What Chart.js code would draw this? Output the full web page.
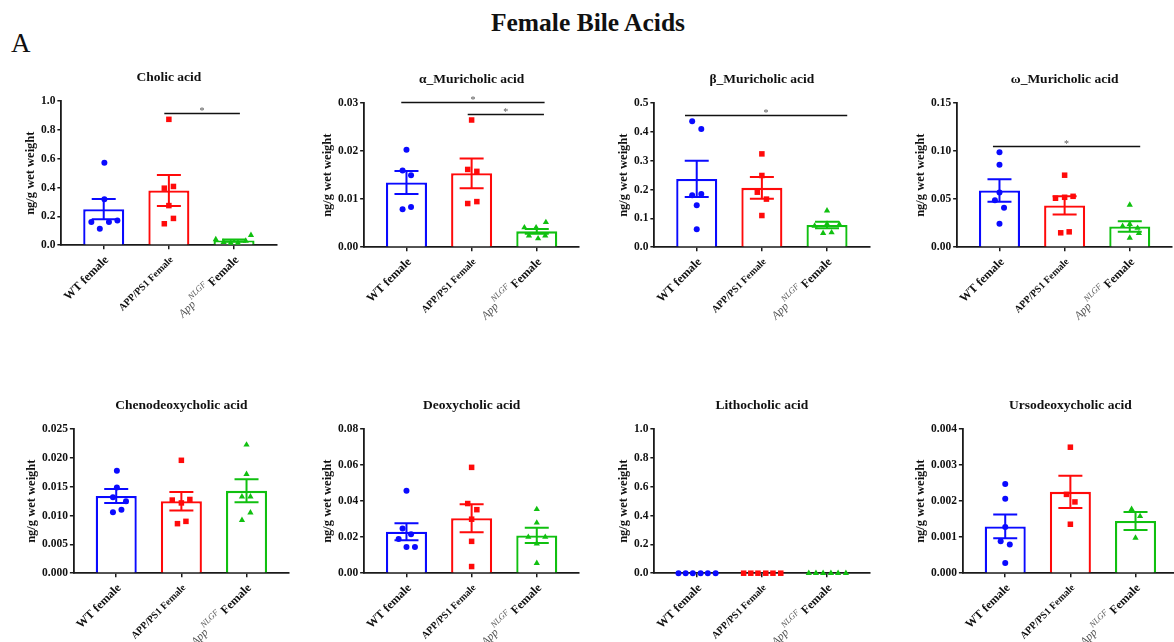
<!DOCTYPE html>
<html>
<head>
<meta charset="utf-8">
<script src="https://cdn.jsdelivr.net/npm/chart.js@4"></script>
<style>
  body { margin: 0; background: #fff; }
  #page { position: relative; width: 1174px; height: 642px; background: #fff; overflow: hidden; }
  #mainTitle { position: absolute; left: 0; top: 8px; width: 1176px; text-align: center;
    font: bold 25.5px 'Liberation Serif', 'Times New Roman', serif; color: #111; }
  #panelLetter { position: absolute; left: 11px; top: 28px; font: 27px 'Liberation Serif', 'Times New Roman', serif; color: #111; }
  canvas { position: absolute; }
</style>
</head>
<body>
<div id="page">
  <div id="mainTitle">Female Bile Acids</div>
  <div id="panelLetter">A</div>
</div>
<script>
const categories = ['WT female', 'APP/PS1 Female', 'App^{NLGF} Female'];

//// Cholic acid
const cholicWT = [0.573, 0.319, 0.161, 0.114, 0.161, 0.172];
const cholicAPP = [0.874, 0.396, 0.408, 0.275, 0.186, 0.149];
const cholicNLGF = [0.040, 0.021, 0.016, 0.016, 0.030, 0.070];
const cholicJitter = [[0.01, 0.01, -0.19, -0.06, 0.08, 0.21], [0, -0.07, 0.07, 0, 0.07, -0.07], [-0.28, -0.16, -0.05, 0.06, 0.18, 0.26]];
const cholicMean = [0.25, 0.38, 0.032];
const cholicSem = [0.07, 0.107, 0.008];
const cholicTicks = ['0.0', '0.2', '0.4', '0.6', '0.8', '1.0'];
const cholicSig = [[0.93, 2.09, 0.918]];

//// alpha muricholic
const alphaWT = [0.0203, 0.0160, 0.0150, 0.0079, 0.0084];
const alphaAPP = [0.0265, 0.0162, 0.0158, 0.0091, 0.0095];
const alphaNLGF = [0.0041, 0.0041, 0.0052, 0.0024, 0.0018, 0.0024];
const alphaJitter = [[0, -0.06, 0.07, -0.06, 0.07], [0, -0.06, 0.08, -0.06, 0.08], [-0.19, -0.01, 0.14, -0.12, 0.02, 0.13]];
const alphaMean = [0.0135, 0.0154, 0.0033];
const alphaSem = [0.0024, 0.0031, 0.0005];
const alphaTicks = ['0.00', '0.01', '0.02', '0.03'];
const alphaSig = [[-0.08, 2.12, 0.0303], [0.94, 2.11, 0.0278]];

//// beta muricholic
const betaWT = [0.437, 0.410, 0.180, 0.185, 0.146, 0.062];
const betaAPP = [0.324, 0.249, 0.191, 0.167, 0.110];
const betaNLGF = [0.127, 0.074, 0.081, 0.079, 0.049, 0.051];
const betaJitter = [[-0.07, 0.07, -0.07, 0.07, 0, 0], [0, 0, -0.07, 0.07, 0], [0, -0.19, 0, 0.19, -0.06, 0.07]];
const betaMean = [0.237, 0.206, 0.077];
const betaSem = [0.063, 0.038, 0.011];
const betaTicks = ['0.0', '0.1', '0.2', '0.3', '0.4', '0.5'];
const betaSig = [[-0.18, 2.31, 0.46]];

//// omega muricholic
const omegaWT = [0.099, 0.086, 0.057, 0.049, 0.041, 0.0245];
const omegaAPP = [0.075, 0.051, 0.052, 0.053, 0.015, 0.016];
const omegaNLGF = [0.044, 0.022, 0.024, 0.020, 0.0145, 0.0097];
const omegaJitter = [[0, 0, 0, -0.07, 0.07, 0], [0, -0.14, 0, 0.13, -0.06, 0.07], [0, -0.11, 0, 0.12, 0.14, 0]];
const omegaMean = [0.059, 0.0435, 0.0215];
const omegaSem = [0.0117, 0.0095, 0.0055];
const omegaTicks = ['0.00', '0.05', '0.10', '0.15'];
const omegaSig = [[-0.10, 2.16, 0.105]];

//// chenodeoxycholic
const chenoWT = [0.0178, 0.0149, 0.0132, 0.0125, 0.0106, 0.0110];
const chenoAPP = [0.0196, 0.0127, 0.0122, 0.0128, 0.0086, 0.0090];
const chenoNLGF = [0.0223, 0.0172, 0.0133, 0.0133, 0.0092, 0.0105];
const chenoJitter = [[0.01, 0.01, -0.05, 0.15, -0.05, 0.08], [0, -0.14, 0, 0.13, -0.06, 0.07], [0, 0, -0.07, 0.06, -0.07, 0.06]];
const chenoMean = [0.0134, 0.0125, 0.0143];
const chenoSem = [0.0012, 0.0016, 0.0020];
const chenoTicks = ['0.000', '0.005', '0.010', '0.015', '0.020', '0.025'];
const chenoSig = [];

//// deoxycholic
const deoxyWT = [0.0458, 0.0249, 0.0216, 0.0190, 0.0145, 0.0145];
const deoxyAPP = [0.0588, 0.0387, 0.0353, 0.0300, 0.0177, 0.0037];
const deoxyNLGF = [0.0355, 0.0280, 0.0201, 0.0201, 0.0164, 0.0056];
const deoxyJitter = [[0, -0.06, 0.07, -0.12, 0, 0.13], [0, -0.06, 0.08, 0, 0, 0], [0, 0, -0.13, 0.13, 0, 0]];
const deoxyMean = [0.0230, 0.0305, 0.0210];
const deoxySem = [0.0047, 0.0078, 0.0042];
const deoxyTicks = ['0.00', '0.02', '0.04', '0.06', '0.08'];
const deoxySig = [];

//// lithocholic
const lithoWT = [0, 0, 0, 0, 0, 0];
const lithoAPP = [0, 0, 0, 0, 0, 0];
const lithoNLGF = [0, 0, 0, 0, 0, 0];
const lithoJitter = [[-0.28, -0.17, -0.06, 0.06, 0.17, 0.29], [-0.28, -0.17, -0.06, 0.06, 0.17, 0.29], [-0.28, -0.17, -0.06, 0.06, 0.17, 0.29]];
const lithoMean = [0, 0, 0];
const lithoSem = [0, 0, 0];
const lithoTicks = ['0.0', '0.2', '0.4', '0.6', '0.8', '1.0'];
const lithoSig = [];

//// ursodeoxycholic
const ursoWT = [0.00248, 0.00207, 0.00128, 0.00089, 0.00080, 0.00028];
const ursoAPP = [0.00350, 0.00219, 0.00198, 0.00136];
const ursoNLGF = [0.00178, 0.00158, 0.00098];
const ursoJitter = [[0, 0, 0, -0.07, 0.07, 0], [0, -0.06, 0.07, 0], [-0.06, 0.07, 0]];
const ursoMean = [0.00130, 0.00226, 0.00145];
const ursoSem = [0.00033, 0.00045, 0.00025];
const ursoTicks = ['0.000', '0.001', '0.002', '0.003', '0.004'];
const ursoSig = [];

const panels = [
  {title: 'Cholic acid', groups: [cholicWT, cholicAPP, cholicNLGF], jitter: cholicJitter, mean: cholicMean, sem: cholicSem, ticks: cholicTicks, sig: cholicSig},
  {title: 'α_Muricholic acid', groups: [alphaWT, alphaAPP, alphaNLGF], jitter: alphaJitter, mean: alphaMean, sem: alphaSem, ticks: alphaTicks, sig: alphaSig},
  {title: 'β_Muricholic acid', groups: [betaWT, betaAPP, betaNLGF], jitter: betaJitter, mean: betaMean, sem: betaSem, ticks: betaTicks, sig: betaSig},
  {title: 'ω_Muricholic acid', groups: [omegaWT, omegaAPP, omegaNLGF], jitter: omegaJitter, mean: omegaMean, sem: omegaSem, ticks: omegaTicks, sig: omegaSig},
  {title: 'Chenodeoxycholic acid', groups: [chenoWT, chenoAPP, chenoNLGF], jitter: chenoJitter, mean: chenoMean, sem: chenoSem, ticks: chenoTicks, sig: chenoSig},
  {title: 'Deoxycholic acid', groups: [deoxyWT, deoxyAPP, deoxyNLGF], jitter: deoxyJitter, mean: deoxyMean, sem: deoxySem, ticks: deoxyTicks, sig: deoxySig},
  {title: 'Lithocholic acid', groups: [lithoWT, lithoAPP, lithoNLGF], jitter: lithoJitter, mean: lithoMean, sem: lithoSem, ticks: lithoTicks, sig: lithoSig},
  {title: 'Ursodeoxycholic acid', groups: [ursoWT, ursoAPP, ursoNLGF], jitter: ursoJitter, mean: ursoMean, sem: ursoSem, ticks: ursoTicks, sig: ursoSig},
];

// where each plot area sits on the page (left edge of y axis, top of y axis)
const plotBoxes = [[61, 101], [364, 103], [654, 103], [957, 103], [74, 429], [364, 429], [654, 429], [963, 429]];
const plotW = 215, plotH = 144;

const serif = "'Liberation Serif', 'Times New Roman', serif";
const colors = ['#0a0aff', '#ff0a0a', '#10c010'];
const shapes = ['circle', 'rect', 'triangle'];
const radii = [3, 3.9, 3.6];
const axisColor = '#1a1a1a';

function labelParts(lab, i) {
    let m = lab.match(/^(.*)\^\{(.*)\}(.*)$/);
    if (m) {
        return [
            {text: m[1], font: 'italic 11.5px ' + serif, color: '#555', dy: 1},
            {text: m[2], font: 'italic 8.5px ' + serif, color: '#555', dy: -5},
            {text: m[3], font: 'bold 12px ' + serif, color: '#111', dy: 0},
        ];
    }
    let size = (i == 0) ? 12 : 10;
    return [{text: lab, font: 'bold ' + size + 'px ' + serif, color: '#111', dy: 0}];
}

function makePanel(p, box) {
    const canvas = document.createElement('canvas');
    canvas.width = 300;
    canvas.height = 290;
    document.getElementById('page').appendChild(canvas);

    let tickVals = p.ticks.map(t => parseFloat(t));
    let datasets = [];
    p.groups.forEach((vals, g) => {
        datasets.push({
            type: 'scatter',
            data: vals.map((v, i) => ({x: g + p.jitter[g][i], y: v})),
            pointStyle: shapes[g],
            pointRadius: radii[g],
            backgroundColor: colors[g],
            borderWidth: 0,
            clip: false,
            order: 0,
        });
    });
    datasets.push({
        type: 'bar',
        data: p.mean.map((m, g) => ({x: g, y: m})),
        backgroundColor: '#fff',
        borderColor: colors,
        borderWidth: 2.3,
        barPercentage: 0.63,
        categoryPercentage: 1,
        order: 1,
    });

    const extras = {
        id: 'extras',
        afterDatasetsDraw(chart) {
            const {ctx, scales: {x, y}} = chart;
            ctx.save();
            // error bars (mean +/- sem)
            p.mean.forEach((m, g) => {
                if (!p.sem[g]) return;
                let cx = x.getPixelForValue(g);
                let yt = y.getPixelForValue(m + p.sem[g]);
                let yb = y.getPixelForValue(m - p.sem[g]);
                ctx.strokeStyle = colors[g];
                ctx.lineWidth = 2;
                ctx.beginPath();
                ctx.moveTo(cx, yt); ctx.lineTo(cx, yb);
                ctx.moveTo(cx - 12, yt); ctx.lineTo(cx + 12, yt);
                ctx.moveTo(cx - 12, yb); ctx.lineTo(cx + 12, yb);
                ctx.stroke();
            });
            // significance bars
            for (let s of p.sig) {
                let x1 = x.getPixelForValue(s[0]), x2 = x.getPixelForValue(s[1]);
                let yy = Math.round(y.getPixelForValue(s[2])) + 0.5;
                ctx.strokeStyle = '#111';
                ctx.lineWidth = 1.5;
                ctx.beginPath();
                ctx.moveTo(x1, yy); ctx.lineTo(x2, yy);
                ctx.stroke();
                ctx.fillStyle = '#555';
                ctx.font = '10px ' + serif;
                ctx.textAlign = 'center';
                ctx.textBaseline = 'bottom';
                ctx.fillText('*', (x1 + x2) / 2, yy + 3);
            }
            ctx.restore();
        },
        afterDraw(chart) {
            const {ctx, scales: {x, y}} = chart;
            const base = y.getPixelForValue(0);
            categories.forEach((lab, i) => {
                let parts = labelParts(lab, i);
                ctx.save();
                ctx.translate(x.getPixelForValue(i) + 3, base + 13);
                ctx.rotate(-Math.PI / 4);
                ctx.textBaseline = 'middle';
                ctx.textAlign = 'left';
                let total = 0;
                for (let pt of parts) { ctx.font = pt.font; pt.w = ctx.measureText(pt.text).width; total += pt.w; }
                let cx = -total;
                for (let pt of parts) {
                    ctx.font = pt.font;
                    ctx.fillStyle = pt.color;
                    ctx.fillText(pt.text, cx, pt.dy);
                    cx += pt.w;
                }
                ctx.restore();
            });
        }
    };

    const padding = {top: 4, right: 10, bottom: 0, left: 2};
    const chart = new Chart(canvas, {
        type: 'bar',
        data: {datasets: datasets},
        options: {
            responsive: false,
            animation: false,
            layout: {padding: padding},
            plugins: {
                legend: {display: false},
                tooltip: {enabled: false},
                title: {
                    display: true,
                    text: p.title,
                    fullSize: false,
                    color: '#111',
                    font: {family: serif, size: 13.5, weight: 'bold'},
                    padding: {top: 0, bottom: 16},
                },
            },
            scales: {
                x: {
                    type: 'linear',
                    offset: false,
                    min: -0.65,
                    max: 2.65,
                    afterBuildTicks: s => { s.ticks = [0, 1, 2].map(v => ({value: v})); },
                    afterFit: s => { s.height = 95; },
                    ticks: {display: false},
                    grid: {display: true, offset: false, drawOnChartArea: false, drawTicks: true, tickLength: 4, color: axisColor, lineWidth: 1.5},
                    border: {display: true, color: axisColor, width: 1.8},
                },
                y: {
                    min: 0,
                    max: tickVals[tickVals.length - 1],
                    afterBuildTicks: s => { s.ticks = tickVals.map(v => ({value: v})); },
                    ticks: {
                        callback: (v, i) => p.ticks[i],
                        color: '#111',
                        padding: 2,
                        font: {family: serif, size: 11.5, weight: 'bold'},
                    },
                    grid: {display: true, drawOnChartArea: false, drawTicks: true, tickLength: 4, color: axisColor, lineWidth: 1.5},
                    border: {display: true, color: axisColor, width: 1.8},
                    title: {
                        display: true,
                        text: 'ng/g wet weight',
                        color: '#111',
                        padding: {top: 0, bottom: 1},
                        font: {family: serif, size: 12.5, weight: 'bold'},
                    },
                },
            },
        },
        plugins: [extras],
    });

    // fit the plot area to the size used in the figure, then place the canvas
    let a = chart.chartArea;
    padding.right += (a.right - a.left) - plotW;
    padding.bottom += (a.bottom - a.top) - plotH;
    chart.update();
    a = chart.chartArea;
    canvas.style.left = (box[0] - a.left) + 'px';
    canvas.style.top = (box[1] - a.top) + 'px';
}

window.addEventListener('load', () => {
    panels.forEach((p, i) => makePanel(p, plotBoxes[i]));
});
</script>
</body>
</html>
